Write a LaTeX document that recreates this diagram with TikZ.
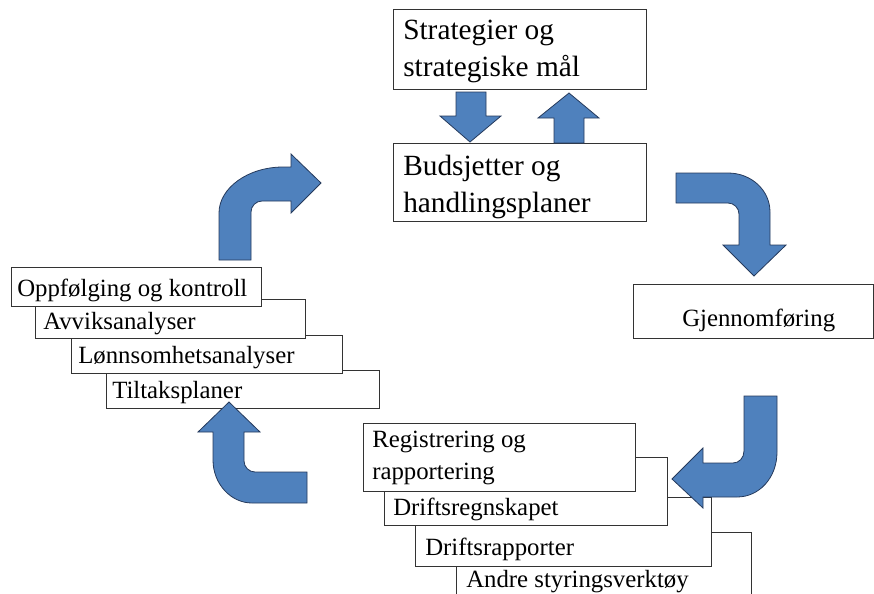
\documentclass[tikz,border=0pt]{standalone}
\usepackage{fontspec}
\setmainfont{Liberation Serif}
\newdimen\pxu \pxu=0.75pt
\definecolor{arrowblue}{RGB}{79,129,189}
\definecolor{arrowedge}{RGB}{37,58,92}
\tikzset{
  box/.style={draw=black!80, fill=white, line width=1\pxu,
              anchor=north west, inner sep=0pt},
  bigtxt/.style={font=\fontsize{22}{27.5}\selectfont, align=left,
                 anchor=base west, inner sep=0pt},
  smalltxt/.style={font=\fontsize{18.6}{24}\selectfont, align=left,
                   anchor=base west, inner sep=0pt},
  blockarrow/.style={fill=arrowblue, draw=arrowedge, line width=0.8\pxu}
}
\begin{document}
\begin{tikzpicture}[x=1\pxu, y=-1\pxu]
  \useasboundingbox (0,0) rectangle (874,593);
  \clip (0,0) rectangle (874,593);

  % strategi og budsjett (text anchored on last line)
  \node[box, minimum width=253\pxu, minimum height=80\pxu] (strat) at (393,9) {};
  \node[bigtxt] (strat-t) at (403,76) {Strategier og\\strategiske  mål};
  \node[box, minimum width=253\pxu, minimum height=78\pxu] (budsj) at (393,143) {};
  \node[bigtxt] (budsj-t) at (403,212) {Budsjetter og\\handlingsplaner};

  % gjennomforing
  \node[box, minimum width=240\pxu, minimum height=54\pxu] (gjennom) at (633,284) {};
  \node[smalltxt] (gjennom-t) at (682,326) {Gjennomføring};

  % oppfolging, back to front
  \node[box, minimum width=273\pxu, minimum height=38\pxu] (tiltak) at (106,370) {};
  \node[smalltxt] (tiltak-t) at (112,398) {Tiltaksplaner};
  \node[box, minimum width=271\pxu, minimum height=38\pxu] (lonn) at (71,335) {};
  \node[smalltxt] (lonn-t) at (78,363) {Lønnsomhetsanalyser};
  \node[box, minimum width=270\pxu, minimum height=39\pxu] (avvik) at (35,299) {};
  \node[smalltxt] (avvik-t) at (43,329) {Avviksanalyser};
  \node[box, minimum width=250\pxu, minimum height=39\pxu] (oppf) at (11,267) {};
  \node[smalltxt] (oppf-t) at (17,296) {Oppfølging og kontroll};

  % registrering, back to front
  \node[box, minimum width=295\pxu, minimum height=80\pxu] (andre) at (456,532) {};
  \node[smalltxt] (andre-t) at (466,587) {Andre styringsverktøy};
  \node[box, minimum width=296\pxu, minimum height=69\pxu] (driftsrap) at (415,497) {};
  \node[smalltxt] (driftsrap-t) at (425,555) {Driftsrapporter};
  \node[box, minimum width=283\pxu, minimum height=68\pxu] (driftsr) at (384,457) {};
  \node[smalltxt] (driftsr-t) at (393,515) {Driftsregnskapet};
  \node[box, minimum width=272\pxu, minimum height=68\pxu] (regist) at (363,423) {};
  \node[smalltxt] (regist-t) at (372,479) {Registrering og\\rapportering};

  % straight arrows
  \draw[blockarrow] (456,92) -- (486,92) -- (486,116) -- (501,116) -- (470,142)
    -- (440,116) -- (456,116) -- cycle;
  \draw[blockarrow] (554,143) -- (584,143) -- (584,118) -- (599,118) -- (569,93)
    -- (538,118) -- (554,118) -- cycle;

  % bent arrows
  \draw[blockarrow] (219,260) -- (219,213) .. controls (219,188) and (248,167) .. (283,167)
    -- (291,167) -- (291,154) -- (321,183) -- (291,213) -- (291,201) -- (262,201)
    .. controls (256,201) and (251,206) .. (251,212) -- (251,260) -- cycle;
  \draw[blockarrow] (676,173) -- (728,173) .. controls (751,173) and (770,190) .. (770,212)
    -- (770,245) -- (786,245) -- (754,276) -- (723,245) -- (739,245) -- (739,214)
    .. controls (739,208) and (734,203) .. (728,203) -- (676,203) -- cycle;
  \draw[blockarrow] (307,503) -- (252,503) .. controls (231,503) and (213,484) .. (213,460)
    -- (213,432) -- (198,432) -- (229,402) -- (260,432) -- (244,432) -- (244,461)
    .. controls (244,467) and (249,472) .. (255,472) -- (307,472) -- cycle;
  \draw[blockarrow] (744,396) -- (777,396) -- (777,452) .. controls (777,478) and (759,497) .. (737,497)
    -- (703,497) -- (703,508) -- (672,479) -- (703,448) -- (703,463) -- (733,463)
    .. controls (739,463) and (744,458) .. (744,451) -- cycle;
\end{tikzpicture}
\end{document}
